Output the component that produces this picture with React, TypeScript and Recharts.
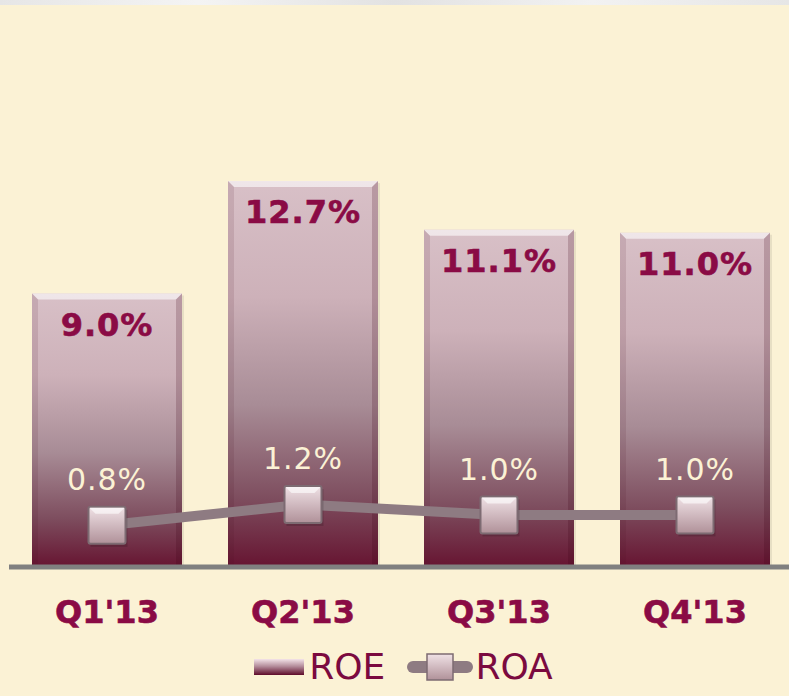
import {
  ComposedChart, Bar, Line, XAxis, YAxis, LabelList, Legend,
} from "recharts";

const quarters = ["Q1'13", "Q2'13", "Q3'13", "Q4'13"];
const roeValues = [9.0, 12.7, 11.1, 11.0];
const roaValues = [0.8, 1.2, 1.0, 1.0];

const data = quarters.map((q, i) => ({ quarter: q, roe: roeValues[i], roa: roaValues[i] }));

const MAROON = "#8A0B45";
const FONT = "'DejaVu Sans', Verdana, sans-serif";

function BevelBar(props: any) {
  const { x, y, width, height } = props;
  if (!height || height <= 0) return null;
  const b = 6;
  return (
    <g>
      <rect x={x + 2} y={y + 2} width={width} height={height - 2} fill="#000" opacity={0.08} />
      <rect x={x} y={y} width={width} height={height} fill="url(#roeGrad)" />
      {/* top bevel */}
      <polygon points={`${x},${y} ${x + width},${y} ${x + width - b},${y + b} ${x + b},${y + b}`}
        fill="#fff" opacity={0.6} />
      {/* left bevel */}
      <polygon points={`${x},${y} ${x + b},${y + b} ${x + b},${y + height} ${x},${y + height}`}
        fill="#4a1020" opacity={0.12} />
      {/* right bevel */}
      <polygon points={`${x + width},${y} ${x + width - b},${y + b} ${x + width - b},${y + height} ${x + width},${y + height}`}
        fill="#3a0015" opacity={0.2} />
    </g>
  );
}

function RoaDot(props: any) {
  const { cx, cy } = props;
  if (cx == null || cy == null) return null;
  const s = 37;
  return (
    <g>
      <rect x={cx - s / 2 + 2} y={cy - s / 2 + 3} width={s} height={s} fill="#000" opacity={0.15} />
      <rect x={cx - s / 2} y={cy - s / 2} width={s} height={s} rx={2}
        fill="url(#roaGrad)" stroke="#7D6B72" strokeWidth={2} />
      <polygon points={`${cx - s / 2 + 1},${cy - s / 2 + 1} ${cx + s / 2 - 1},${cy - s / 2 + 1} ${cx + s / 2 - 7},${cy - s / 2 + 7} ${cx - s / 2 + 7},${cy - s / 2 + 7}`}
        fill="#fff" opacity={0.6} />
    </g>
  );
}

function RoeLabel(props: any) {
  const { x, y, width, value } = props;
  return (
    <text x={x + width / 2} y={y + 42} textAnchor="middle" fill={MAROON}
      fontFamily={FONT} fontWeight="bold" fontSize={32} letterSpacing={1}
      stroke={MAROON} strokeWidth={0.6}>
      {Number(value).toFixed(1)}%
    </text>
  );
}

function RoaLabel(props: any) {
  const { x, y, value } = props;
  return (
    <text x={x} y={y - 35} textAnchor="middle" fill="#FBF2D5"
      fontFamily={FONT} fontSize={30} letterSpacing={1}>
      {Number(value).toFixed(1)}%
    </text>
  );
}

function QuarterTick(props: any) {
  const { x, y, payload } = props;
  return (
    <text x={x} y={y + 48} textAnchor="middle" fill={MAROON}
      fontFamily={FONT} fontWeight="bold" fontSize={32}
      stroke={MAROON} strokeWidth={0.6}>
      {payload.value}
    </text>
  );
}

function ChartLegend() {
  return (
    <div style={{ display: "flex", justifyContent: "center", alignItems: "center", fontFamily: FONT, color: "#7B0A3F", fontSize: 36, height: 59, paddingLeft: 4 }}>
      <svg width={52} height={20} style={{ marginRight: 4 }}>
        <rect x={1} y={2} width={50} height={16} fill="url(#roeLegendGrad)" />
      </svg>
      <span>ROE</span>
      <svg width={66} height={40} style={{ marginLeft: 22, marginRight: 2 }}>
        <line x1={6} y1={20} x2={60} y2={20} stroke="#8E7B82" strokeWidth={12} strokeLinecap="round" />
        <rect x={20} y={7} width={26} height={26} fill="url(#roaGrad)" stroke="#7D6B72" strokeWidth={1.5} />
      </svg>
      <span>ROA</span>
    </div>
  );
}

export default function App() {
  return (
    <div style={{ position: "absolute", left: 0, top: 0, width: 789, height: 696, background: "#FBF2D5", overflow: "hidden" }}>
      <div style={{ position: "absolute", left: 0, top: 0, width: 789, height: 5, background: "linear-gradient(90deg,#e6e6e6,#f4f4f4,#e2e2e2,#f2f2f2,#e6e6e6)" }} />
      <svg width={0} height={0} style={{ position: "absolute" }}>
        <defs>
          <linearGradient id="roeLegendGrad" x1="0" y1="0" x2="0" y2="1">
            <stop offset="0%" stopColor="#F3E3E8" />
            <stop offset="45%" stopColor="#B58E9C" />
            <stop offset="100%" stopColor="#5E0B2A" />
          </linearGradient>
        </defs>
      </svg>
      <ComposedChart width={789} height={696} data={data}
        margin={{ top: 20, right: -4, left: 9, bottom: 0 }} barCategoryGap={0}>
        <defs>
          <linearGradient id="roeGrad" x1="0" y1="0" x2="0" y2="1">
            <stop offset="0%" stopColor="#D8C0C7" />
            <stop offset="30%" stopColor="#CDB1B9" />
            <stop offset="58%" stopColor="#A88C96" />
            <stop offset="82%" stopColor="#7E4E5F" />
            <stop offset="100%" stopColor="#661431" />
          </linearGradient>
          <linearGradient id="roaGrad" x1="0" y1="0" x2="0" y2="1">
            <stop offset="0%" stopColor="#F0E2E6" />
            <stop offset="100%" stopColor="#B09199" />
          </linearGradient>
        </defs>
        <XAxis dataKey="quarter" axisLine={{ stroke: "#808080", strokeWidth: 5 }}
          tickLine={false} tick={<QuarterTick />} height={70} interval={0} />
        <YAxis yAxisId="roe" hide domain={[0, 18]} />
        <YAxis yAxisId="roa" hide orientation="right" domain={[0, 10.5]} />
        <Legend verticalAlign="bottom" height={59} content={<ChartLegend />} />
        <Bar yAxisId="roe" dataKey="roe" name="ROE" barSize={150} shape={<BevelBar />} isAnimationActive={false}>
          <LabelList dataKey="roe" content={<RoeLabel />} />
        </Bar>
        <Line yAxisId="roa" dataKey="roa" name="ROA" type="linear" stroke="#8E7B82" strokeWidth={10}
          dot={<RoaDot />} activeDot={false} isAnimationActive={false}>
          <LabelList dataKey="roa" content={<RoaLabel />} />
        </Line>
      </ComposedChart>
    </div>
  );
}
